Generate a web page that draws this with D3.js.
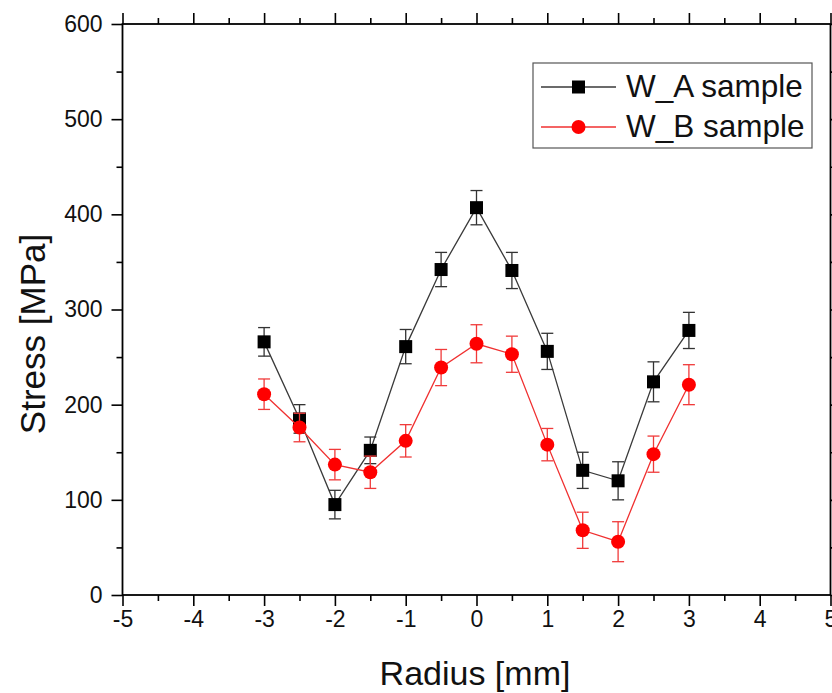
<!DOCTYPE html>
<html>
<head>
<meta charset="utf-8">
<script src="https://cdn.jsdelivr.net/npm/d3@7"></script>
<style>
  html, body { margin: 0; padding: 0; background: #fff; }
  svg { display: block; font-family: "Liberation Sans", Arial, sans-serif; }
</style>
</head>
<body>
<svg id="chart" width="832" height="693"></svg>
<script>
// ---- data ----
const radius = [-3, -2.5, -2, -1.5, -1, -0.5, 0, 0.5, 1, 1.5, 2, 2.5, 3];
const stressA = [266, 185, 95, 152, 261, 342, 407, 341, 256, 131, 120, 224, 278];
const errA    = [15, 15, 15, 14, 18, 18, 18, 19, 19, 19, 20, 21, 19];
const stressB = [211, 176, 137, 129, 162, 239, 264, 253, 158, 68, 56, 148, 221];
const errB    = [16, 15, 16, 17, 17, 19, 20, 19, 17, 19, 21, 19, 21];
const xTicks = [-5, -4, -3, -2, -1, 0, 1, 2, 3, 4, 5];
const yTicks = [0, 100, 200, 300, 400, 500, 600];
const seriesNames = ["W_A sample", "W_B sample"];

// ---- layout ----
const W = 832, H = 693;
const m = { left: 122.5, right: 1.5, top: 24, bottom: 98 };
const svg = d3.select("#chart");

const x = d3.scaleLinear().domain([-5, 5]).range([m.left, W - m.right]);
const y = d3.scaleLinear().domain([0, 600]).range([H - m.bottom, m.top]);

const axisColor = "#000";
const minorX = d3.range(-4.5, 5, 1);
const minorY = d3.range(50, 600, 100);
const fmt = d => String(d);

function styleAxis(g) {
  g.select(".domain").remove();
  g.selectAll(".tick line").attr("stroke", axisColor).attr("stroke-width", 1.6);
  g.selectAll(".tick text").attr("fill", "#111").style("font-size", "23px").style("font-family", "'Liberation Sans', Arial, sans-serif");
}

// bottom major
svg.append("g").attr("transform", `translate(0,${y(0)})`)
  .call(d3.axisBottom(x).tickValues(xTicks).tickSize(11).tickPadding(5).tickFormat(fmt))
  .call(styleAxis);
// bottom minor
svg.append("g").attr("transform", `translate(0,${y(0)})`)
  .call(d3.axisBottom(x).tickValues(minorX).tickSize(6).tickFormat(""))
  .call(styleAxis);
// top major/minor
svg.append("g").attr("transform", `translate(0,${y(600)})`)
  .call(d3.axisTop(x).tickValues(xTicks).tickSize(11).tickFormat(""))
  .call(styleAxis);
svg.append("g").attr("transform", `translate(0,${y(600)})`)
  .call(d3.axisTop(x).tickValues(minorX).tickSize(6).tickFormat(""))
  .call(styleAxis);
// left
svg.append("g").attr("transform", `translate(${x(-5)},0)`)
  .call(d3.axisLeft(y).tickValues(yTicks).tickSize(11).tickPadding(9).tickFormat(fmt))
  .call(styleAxis);
svg.append("g").attr("transform", `translate(${x(-5)},0)`)
  .call(d3.axisLeft(y).tickValues(minorY).tickSize(6).tickFormat(""))
  .call(styleAxis);
// right
svg.append("g").attr("transform", `translate(${x(5)},0)`)
  .call(d3.axisRight(y).tickValues(yTicks).tickSize(11).tickFormat(""))
  .call(styleAxis);
svg.append("g").attr("transform", `translate(${x(5)},0)`)
  .call(d3.axisRight(y).tickValues(minorY).tickSize(6).tickFormat(""))
  .call(styleAxis);

// frame
svg.append("rect")
  .attr("x", x(-5)).attr("y", y(600))
  .attr("width", x(5) - x(-5)).attr("height", y(0) - y(600))
  .attr("fill", "none").attr("stroke", axisColor).attr("stroke-width", 1.8);

// axis titles
svg.append("text")
  .attr("x", 475).attr("y", 685)
  .attr("text-anchor", "middle")
  .style("font-size", "34px").attr("fill", "#111")
  .text("Radius [mm]");
svg.append("text")
  .attr("transform", `translate(45,334) rotate(-90)`)
  .attr("text-anchor", "middle")
  .style("font-size", "35px").attr("fill", "#111")
  .text("Stress [MPa]");

// ---- series ----
const series = [
  { vals: stressA, errs: errA, line: "#3a3a3a", err: "#333", fill: "#000", shape: "square" },
  { vals: stressB, errs: errB, line: "#f03030", err: "#f03a3a", fill: "#ff0000", shape: "circle" }
];

const lineGen = d3.line().x(d => x(d[0])).y(d => y(d[1]));

series.forEach(s => {
  const pts = radius.map((r, i) => [r, s.vals[i], s.errs[i]]);
  const g = svg.append("g");
  g.append("path").datum(pts)
    .attr("d", lineGen).attr("fill", "none")
    .attr("stroke", s.line).attr("stroke-width", 1.3);
  const eb = g.selectAll(".eb").data(pts).join("g");
  const cw = 6;
  eb.append("line")
    .attr("x1", d => x(d[0])).attr("x2", d => x(d[0]))
    .attr("y1", d => y(d[1] - d[2])).attr("y2", d => y(d[1] + d[2]))
    .attr("stroke", s.err).attr("stroke-width", 1.3);
  eb.append("line")
    .attr("x1", d => x(d[0]) - cw).attr("x2", d => x(d[0]) + cw)
    .attr("y1", d => y(d[1] + d[2])).attr("y2", d => y(d[1] + d[2]))
    .attr("stroke", s.err).attr("stroke-width", 1.3);
  eb.append("line")
    .attr("x1", d => x(d[0]) - cw).attr("x2", d => x(d[0]) + cw)
    .attr("y1", d => y(d[1] - d[2])).attr("y2", d => y(d[1] - d[2]))
    .attr("stroke", s.err).attr("stroke-width", 1.3);
  if (s.shape === "square") {
    g.selectAll(".mk").data(pts).join("rect")
      .attr("x", d => x(d[0]) - 6.5).attr("y", d => y(d[1]) - 6.5)
      .attr("width", 13).attr("height", 13)
      .attr("fill", s.fill);
  } else {
    g.selectAll(".mk").data(pts).join("circle")
      .attr("cx", d => x(d[0])).attr("cy", d => y(d[1]))
      .attr("r", 7).attr("fill", s.fill);
  }
});

// ---- legend ----
const lg = svg.append("g");
lg.append("rect")
  .attr("x", 533).attr("y", 63).attr("width", 279).attr("height", 85)
  .attr("fill", "#fff").attr("stroke", "#555").attr("stroke-width", 1.2);
seriesNames.forEach((name, i) => {
  const s = series[i];
  const cy = 87 + i * 40;
  lg.append("line").attr("x1", 541).attr("x2", 616).attr("y1", cy).attr("y2", cy)
    .attr("stroke", s.line).attr("stroke-width", 1.3);
  if (s.shape === "square") {
    lg.append("rect").attr("x", 578.5 - 6.5).attr("y", cy - 6.5).attr("width", 13).attr("height", 13).attr("fill", s.fill);
  } else {
    lg.append("circle").attr("cx", 578.5).attr("cy", cy).attr("r", 7).attr("fill", s.fill);
  }
  lg.append("text").attr("x", 626).attr("y", cy + 10)
    .style("font-size", "31.5px").attr("fill", "#111").text(name);
});
</script>
</body>
</html>
